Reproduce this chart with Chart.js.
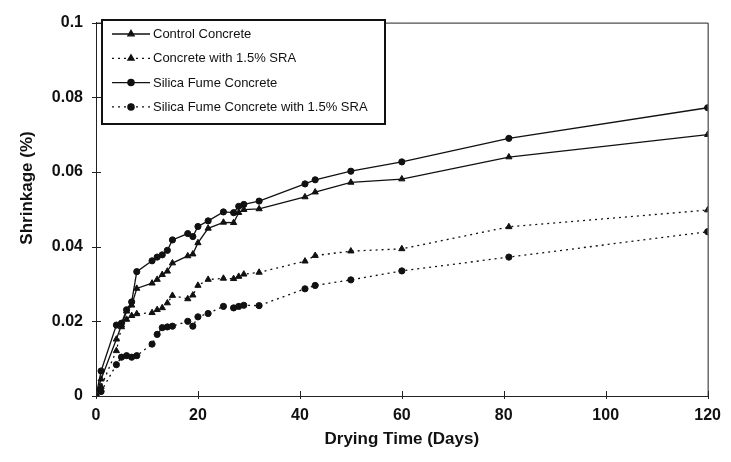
<!DOCTYPE html>
<html>
<head>
<meta charset="utf-8">
<script src="https://cdn.jsdelivr.net/npm/chart.js@4.4.1/dist/chart.umd.min.js"></script>
<style>
  html, body { margin: 0; padding: 0; background: #fff; }
  #wrap { width: 731px; height: 462px; }
</style>
</head>
<body>
<div id="wrap"><canvas id="myChart" width="731" height="462"></canvas></div>
<script>
// drying time in days, shared by all four mixes
const days = [0, 1, 4, 5, 6, 7, 8, 11, 12, 13, 14, 15, 18, 19, 20, 22, 25, 27, 28, 29, 32, 41, 43, 50, 60, 81, 120];

const controlConcrete = [0, 0.0045, 0.0152, 0.0190, 0.0227, 0.0243, 0.0288, 0.0302, 0.0312, 0.0325, 0.0334, 0.0356, 0.0375, 0.0380, 0.0410, 0.0449, 0.0465, 0.0464, 0.0491, 0.0499, 0.0501, 0.0533, 0.0546, 0.0572, 0.0581, 0.0640, 0.0700];
const concreteSRA = [0, 0.0025, 0.0121, 0.0185, 0.0205, 0.0215, 0.0220, 0.0223, 0.0231, 0.0236, 0.0249, 0.0269, 0.0260, 0.0270, 0.0296, 0.0312, 0.0315, 0.0314, 0.0320, 0.0326, 0.0331, 0.0361, 0.0376, 0.0388, 0.0394, 0.0453, 0.0498];
const silicaFume = [0, 0.0067, 0.0190, 0.0195, 0.0231, 0.0252, 0.0333, 0.0362, 0.0372, 0.0378, 0.0390, 0.0418, 0.0435, 0.0427, 0.0454, 0.0469, 0.0493, 0.0491, 0.0508, 0.0513, 0.0522, 0.0568, 0.0579, 0.0602, 0.0627, 0.0690, 0.0772];
const silicaFumeSRA = [0, 0.0012, 0.0084, 0.0104, 0.0108, 0.0104, 0.0108, 0.0139, 0.0165, 0.0183, 0.0185, 0.0187, 0.0200, 0.0187, 0.0212, 0.0221, 0.0240, 0.0236, 0.0240, 0.0243, 0.0242, 0.0287, 0.0296, 0.0311, 0.0335, 0.0372, 0.0440];

const seriesLabels = ['Control Concrete', 'Concrete with 1.5% SRA', 'Silica Fume Concrete', 'Silica Fume Concrete with 1.5% SRA'];
const xTickLabels = ['0', '20', '40', '60', '80', '100', '120'];
const yTickLabels = ['0', '0.02', '0.04', '0.06', '0.08', '0.1'];

const FONT = "'Liberation Sans', Arial, sans-serif";
const INK = '#111';

function pts(values) {
  return days.map((d, i) => ({ x: d, y: values[i] }));
}

function series(label, values, marker, dotted) {
  return {
    label: label,
    data: pts(values),
    borderColor: INK,
    backgroundColor: INK,
    borderWidth: 1.3,
    borderDash: dotted ? [2, 4] : [],
    pointStyle: marker,
    pointRadius: marker === 'triangle' ? 3.6 : 3.1,
    pointBorderWidth: 1,
    pointBorderColor: INK,
    pointBackgroundColor: INK,
    tension: 0,
    fill: false
  };
}

// frame, tick marks crossing the axes, y title and the boxed legend
const decorations = {
  id: 'decorations',
  afterDatasetsDraw(chart) {
    const ctx = chart.ctx;
    const area = chart.chartArea;
    const xs = chart.scales.x, ys = chart.scales.y;
    ctx.save();
    ctx.setLineDash([]);
    ctx.strokeStyle = '#222';
    ctx.lineWidth = 1;
    ctx.beginPath();
    ctx.moveTo(area.left, area.top + 0.5);
    ctx.lineTo(area.right + 0.5, area.top + 0.5);
    ctx.lineTo(area.right + 0.5, area.bottom);
    ctx.stroke();

    ys.ticks.forEach(t => {
      const y = Math.round(ys.getPixelForValue(t.value)) + 0.5;
      ctx.beginPath();
      ctx.moveTo(area.left - 4, y);
      ctx.lineTo(area.left + 5, y);
      ctx.stroke();
    });
    xs.ticks.forEach(t => {
      const x = Math.round(xs.getPixelForValue(t.value)) + 0.5;
      ctx.beginPath();
      ctx.moveTo(x, area.bottom - 5);
      ctx.lineTo(x, area.bottom + 3);
      ctx.stroke();
    });

    // y axis title
    ctx.fillStyle = INK;
    ctx.font = 'bold 17px ' + FONT;
    ctx.textAlign = 'center';
    ctx.textBaseline = 'middle';
    ctx.translate(27, 188);
    ctx.rotate(-Math.PI / 2);
    ctx.fillText('Shrinkage (%)', 0, 0);
    ctx.restore();

    // legend box
    ctx.save();
    const bx = 102, by = 20, bw = 283, bh = 104;
    ctx.fillStyle = '#fff';
    ctx.fillRect(bx, by, bw, bh);
    ctx.strokeStyle = INK;
    ctx.lineWidth = 2;
    ctx.strokeRect(bx, by, bw, bh);
    ctx.font = '13px ' + FONT;
    ctx.textAlign = 'left';
    ctx.textBaseline = 'middle';
    chart.data.datasets.forEach((ds, i) => {
      const y = 34 + i * 24.3;
      ctx.lineWidth = ds.borderWidth;
      ctx.strokeStyle = INK;
      ctx.setLineDash(ds.borderDash);
      ctx.beginPath();
      ctx.moveTo(112, y);
      ctx.lineTo(150, y);
      ctx.stroke();
      ctx.setLineDash([]);
      ctx.fillStyle = INK;
      Chart.helpers.drawPoint(ctx, {
        pointStyle: ds.pointStyle,
        radius: ds.pointRadius,
        rotation: 0,
        borderWidth: 1
      }, 131, y);
      ctx.fillStyle = INK;
      ctx.fillText(ds.label, 153, y + 0.5);
    });
    ctx.restore();
  }
};

const myChart = new Chart(document.getElementById('myChart'), {
  type: 'line',
  data: {
    datasets: [
      series(seriesLabels[0], controlConcrete, 'triangle', false),
      series(seriesLabels[1], concreteSRA, 'triangle', true),
      series(seriesLabels[2], silicaFume, 'circle', false),
      series(seriesLabels[3], silicaFumeSRA, 'circle', true)
    ]
  },
  options: {
    responsive: false,
    animation: false,
    layout: { padding: { left: 0, right: 16, top: 17, bottom: 0 } },
    plugins: {
      legend: { display: false },
      tooltip: { enabled: false }
    },
    scales: {
      x: {
        type: 'linear',
        min: 0,
        max: 120,
        afterFit: s => { s.height = 66; },
        grid: { display: false, drawTicks: false },
        border: { display: true, color: '#222', width: 1 },
        ticks: {
          stepSize: 20,
          padding: 10,
          color: INK,
          font: { family: FONT, size: 16, weight: 'bold' },
          maxRotation: 0,
          callback: (v, i) => xTickLabels[i]
        },
        title: {
          display: true,
          text: 'Drying Time (Days)',
          color: INK,
          font: { family: FONT, size: 17, weight: 'bold' },
          padding: { top: 0, bottom: 12 }
        }
      },
      y: {
        type: 'linear',
        min: 0,
        max: 0.1,
        afterFit: s => { s.width = 96; },
        grid: { display: false, drawTicks: false },
        border: { display: true, color: '#222', width: 1 },
        ticks: {
          stepSize: 0.02,
          padding: 13,
          color: INK,
          font: { family: FONT, size: 16, weight: 'bold' },
          callback: (v, i) => yTickLabels[i]
        }
      }
    }
  },
  plugins: [decorations]
});
</script>
</body>
</html>
